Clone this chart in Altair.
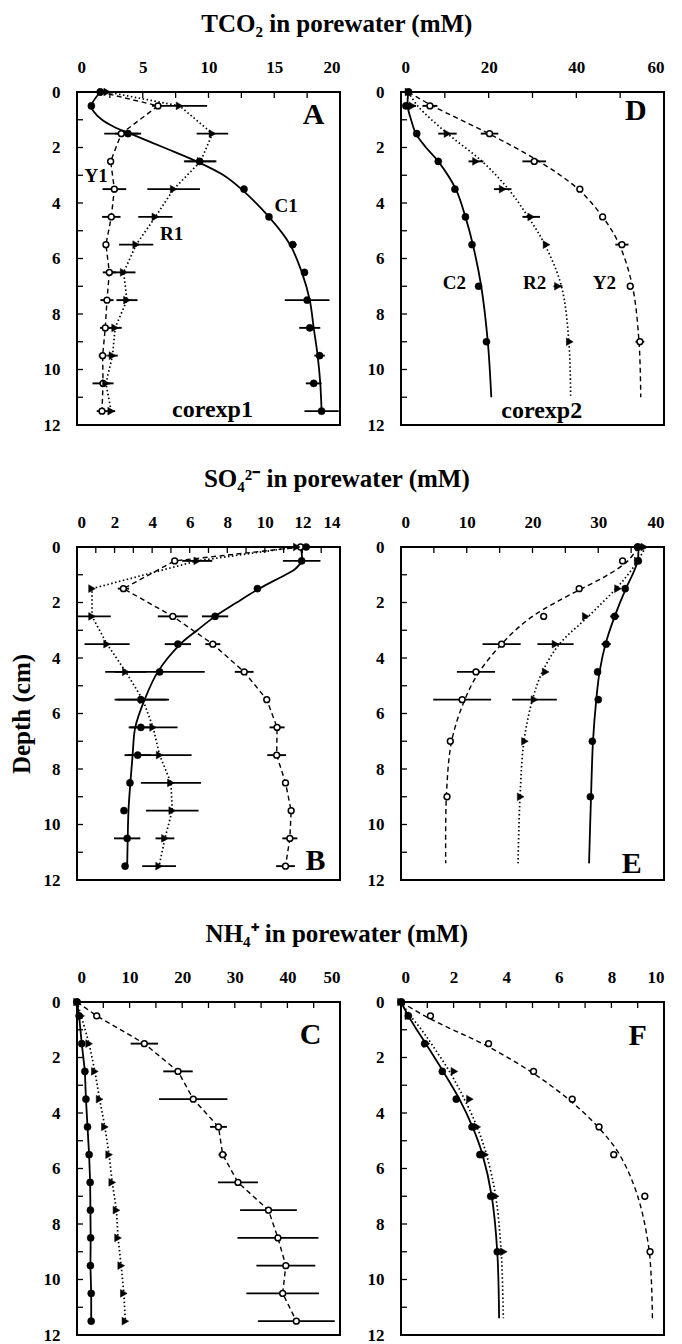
import altair as alt
import pandas as pd

FONT = "Liberation Serif"

DEPTH1 = [0, 0.5, 1.5, 2.5, 3.5, 4.5, 5.5, 6.5, 7.5, 8.5, 9.5, 10.5, 11.5]
DEPTH2 = [0, 0.5, 1.5, 2.5, 3.5, 4.5, 5.5, 7, 9]

# ---------------- Panel A : TCO2, corexp1 ----------------
A_C1 = [1.77, 1.09, 3.88, 9.33, 12.7, 14.6, 16.4, 17.3, 17.5, 17.7, 18.45, 18.0, 18.6]
A_C1_ERR = [0, 0, 1.0, 1.2, 0, 0, 0.3, 0, 1.7, 0.8, 0.4, 0.6, 1.3]
A_C1_FIT_D = [0, 0.5, 0.7, 1.0, 1.25, 1.5, 2.0, 2.5, 3.0, 3.5, 4.5, 5.5, 6.5, 7.5, 8.5, 9.5, 10.5, 11.5]
A_C1_FIT = [1.77, 1.09, 1.27, 1.9, 2.8, 4.05, 6.6, 9.1, 11.15, 12.5, 14.6, 16.2, 17.1, 17.7, 18.0, 18.3, 18.5, 18.6]
A_R1 = [2.3, 7.8, 10.3, 9.4, 7.35, 5.96, 4.5, 3.55, 3.8, 2.9, 2.7, 2.2, 2.6]
A_R1_ERR = [0, 2.1, 1.2, 1.2, 2.0, 1.3, 1.3, 0.9, 0.8, 0.5, 0.4, 0.3, 0.3]
A_Y1 = [1.77, 6.16, 3.37, 2.56, 2.84, 2.61, 2.2, 2.46, 2.28, 2.15, 1.95, 1.98, 1.9]
A_Y1_ERR = [0, 0, 1.3, 0, 0.9, 0.7, 0, 0.5, 0.5, 0.4, 0.3, 0.8, 0.4]

# ---------------- Panel D : TCO2, corexp2 ----------------
D_C2 = [1.7, 1.1, 3.6, 8.5, 12.3, 14.7, 16.2, 17.7, 19.5]
D_C2_ERR = [0, 0, 0, 0, 0, 0, 0, 0, 0]
D_C2_FIT_D = [0, 0.5, 1.0, 1.5, 2.0, 2.5, 3.5, 4.5, 5.5, 7, 9, 11]
D_C2_FIT = [1.7, 1.5, 2.3, 3.4, 5.7, 8.5, 12.5, 14.7, 16.4, 18.3, 19.8, 20.6]
D_R2 = [1.7, 2.6, 10.6, 17.1, 23.2, 29.7, 33.2, 35.8, 38.5]
D_R2_ERR = [0, 0.8, 2.1, 1.7, 2.0, 2.0, 0, 1.0, 0.5]
D_R2_FIT_D = [0, 0.5, 1.5, 2.5, 3.5, 4.5, 5.5, 7, 9, 11]
D_R2_FIT = [1.7, 3.8, 10.6, 18.5, 24.5, 29.0, 32.8, 36.6, 38.3, 38.7]
D_Y2 = [1.7, 6.6, 20.2, 30.4, 40.8, 46.0, 50.4, 52.3, 54.5]
D_Y2_ERR = [0, 1.7, 2.0, 2.7, 0, 0, 1.5, 0.5, 1.0]
D_Y2_FIT_D = [0, 0.5, 1.5, 2.5, 3.5, 4.5, 5.5, 7, 9, 11]
D_Y2_FIT = [1.7, 7.2, 20.0, 31.5, 40.4, 46.0, 49.8, 52.8, 54.3, 54.7]

# ---------------- Panel B : SO4, corexp1 ----------------
B_C1 = [12.2, 11.96, 9.6, 7.35, 5.37, 4.4, 3.4, 3.4, 3.23, 2.82, 2.5, 2.67, 2.56]
B_C1_ERR = [0, 1.0, 0, 0.7, 0.7, 2.4, 1.4, 0.6, 0.7, 0, 0, 0.7, 0]
B_C1_FIT_D = [0, 0.5, 0.8, 1.0, 1.5, 2.0, 2.5, 3.0, 3.5, 4.5, 5.5, 6.5, 7.5, 8.5, 9.5, 10.5, 11.5]
B_C1_FIT = [11.9, 11.96, 11.6, 11.1, 9.7, 8.5, 7.35, 6.4, 5.5, 4.3, 3.6, 3.1, 2.96, 2.84, 2.74, 2.7, 2.67]
B_R1 = [11.7, 6.4, 0.8, 0.8, 1.6, 2.6, 3.5, 4.05, 4.4, 5.0, 5.07, 4.68, 4.37]
B_R1_ERR = [0, 0.8, 0, 1.0, 1.2, 1.1, 1.4, 1.3, 1.7, 1.6, 1.4, 0.5, 0.9]
B_Y1 = [11.9, 5.2, 2.47, 5.1, 7.23, 8.9, 10.1, 10.65, 10.63, 11.1, 11.4, 11.33, 11.1]
B_Y1_ERR = [0, 0, 0.3, 0.8, 0.4, 0.5, 0, 0.4, 0.5, 0, 0, 0.4, 0.5]

# ---------------- Panel E : SO4, corexp2 ----------------
E_C2 = [36.0, 36.1, 34.1, 32.5, 31.2, 29.9, 30.0, 29.1, 28.8]
E_C2_ERR = [0, 0, 0, 0.7, 0.7, 0, 0, 0, 0]
E_C2_FIT_D = [0, 0.5, 1.0, 1.5, 2.5, 3.5, 4.5, 5.5, 7, 9, 11.4]
E_C2_FIT = [36.1, 36.0, 35.2, 34.2, 32.5, 31.1, 30.2, 29.7, 29.2, 28.9, 28.6]
E_R2 = [37.0, 36.0, 33.0, 28.1, 23.5, 22.0, 20.3, 18.85, 18.2]
E_R2_ERR = [0, 0, 0, 0, 2.75, 0, 3.4, 0, 0]
E_R2_FIT_D = [0, 0.5, 1.0, 1.5, 2.5, 3.5, 4.5, 5.5, 7, 9, 11.4]
E_R2_FIT = [37.2, 36.0, 34.5, 32.7, 28.5, 24.1, 21.5, 20.0, 18.7, 18.1, 17.8]
E_Y2 = [36.0, 33.7, 27.1, 21.7, 15.3, 11.4, 9.3, 7.5, 7.0]
E_Y2_ERR = [0, 0, 0, 0, 2.9, 2.9, 4.4, 0, 0]
E_Y2_FIT_D = [0, 0.5, 1.0, 1.5, 2.0, 2.5, 3.0, 3.5, 4.5, 5.5, 7, 9, 11.4]
E_Y2_FIT = [36.1, 34.5, 31.5, 27.5, 23.5, 20.0, 17.4, 15.3, 11.9, 9.7, 7.7, 6.9, 6.8]

# ---------------- Panel C : NH4, corexp1 ----------------
C_C1 = [0, 0.4, 0.9, 1.5, 1.7, 2.0, 2.3, 2.5, 2.55, 2.6, 2.55, 2.7, 2.7]
C_C1_ERR = [0] * 13
C_R1 = [0, 0.8, 2.3, 3.4, 4.3, 5.3, 6.1, 6.7, 7.5, 7.8, 8.4, 8.9, 9.2]
C_R1_ERR = [0] * 13
C_Y1 = [0, 3.75, 12.8, 19.2, 22.1, 26.9, 27.7, 30.6, 36.4, 38.2, 39.7, 39.1, 41.7]
C_Y1_ERR = [0, 0, 2.6, 2.8, 6.5, 1.6, 0.8, 3.8, 5.4, 7.7, 5.6, 6.9, 7.3]

# ---------------- Panel F : NH4, corexp2 ----------------
F_C2 = [0.02, 0.28, 0.9, 1.57, 2.1, 2.7, 3.0, 3.41, 3.66]
F_C2_FIT_D = [0, 0.5, 1.0, 1.5, 2.5, 3.5, 4.5, 5.5, 7, 9, 11.4]
F_C2_FIT = [0, 0.28, 0.6, 0.94, 1.6, 2.22, 2.72, 3.1, 3.45, 3.66, 3.73]
F_R2 = [0, 0.28, 0.97, 2.03, 2.62, 2.9, 3.2, 3.6, 3.91]
F_R2_FIT_D = [0, 0.5, 1.0, 1.5, 2.5, 3.5, 4.5, 5.5, 7, 9, 11.4]
F_R2_FIT = [0, 0.36, 0.78, 1.15, 1.84, 2.41, 2.89, 3.25, 3.6, 3.81, 3.89]
F_Y2 = [0, 1.12, 3.33, 5.04, 6.51, 7.53, 8.09, 9.27, 9.47]
F_Y2_FIT_D = [0, 0.5, 1.0, 1.5, 2.5, 3.5, 4.5, 5.5, 7, 9, 11.4]
F_Y2_FIT = [0, 0.9, 1.97, 3.1, 4.92, 6.36, 7.49, 8.31, 9.0, 9.44, 9.56]
ZERO9 = [0] * 9

ROW_TITLES = ["TCO₂ in porewater (mM)", "SO₄²⁻ in porewater (mM)", "NH₄⁺ in porewater (mM)"]

LINE_STYLE = {
    "C": dict(strokeWidth=1.8),
    "R": dict(strokeWidth=1.7, strokeDash=[1.5, 2.5]),
    "Y": dict(strokeWidth=1.4, strokeDash=[5, 3.5]),
}

W, H = 263, 333


def panel(xmax, xstep, pts, lines, labels, ytitle):
    xs = alt.Scale(domain=[0, xmax], nice=False, zero=True)
    ys = alt.Scale(domain=[0, 12], nice=False, reverse=True)
    n = int(round(xmax / xstep))
    major = [i * xstep for i in range(n + 1)]
    minor = [(i + 0.5) * xstep for i in range(n)]
    xaxis = alt.Axis(orient="top", values=major, title=None, labelFont=FONT,
                     labelFontWeight="bold", labelFontSize=17, labelPadding=16,
                     ticks=False, domain=False, grid=False, labelColor="black")
    yargs = dict(orient="left", values=list(range(0, 13, 2)),
                 labelFont=FONT, labelFontWeight="bold", labelFontSize=17,
                 labelPadding=17, ticks=False, domain=False, grid=False,
                 labelColor="black")
    if ytitle is None:
        yaxis = alt.Axis(title=None, **yargs)
    else:
        yaxis = alt.Axis(title="Depth (cm)", titleFont=FONT, titleFontSize=25,
                         titleFontWeight="bold", titleOpacity=1 if ytitle else 0,
                         titlePadding=9, titleColor="black", **yargs)

    def X(f):
        return alt.X(f, scale=xs, axis=xaxis)

    def Y(f):
        return alt.Y(f, scale=ys, axis=yaxis)

    layers = []
    tx = pd.DataFrame({"v": major + minor})
    layers.append(alt.Chart(tx).mark_rule(color="black", strokeWidth=1.3).encode(
        x=X("v:Q"), y=alt.value(0), y2=alt.value(6)))
    ty = pd.DataFrame({"d": [i * 1.0 for i in range(0, 13)]})
    layers.append(alt.Chart(ty).mark_rule(color="black", strokeWidth=1.3).encode(
        y=Y("d:Q"), x=alt.value(0), x2=alt.value(6)))

    # error bars
    rows = []
    for kind, dep, val, err in pts:
        for d, v, e in zip(dep, val, err):
            if e > 0:
                rows.append({"depth": d, "lo": max(v - e, 0), "hi": v + e})
    if rows:
        layers.append(alt.Chart(pd.DataFrame(rows)).mark_rule(color="black", strokeWidth=1.9).encode(
            x=X("lo:Q"), x2="hi:Q", y=Y("depth:Q")))

    # lines
    for kind, dep, val, interp in lines:
        df = pd.DataFrame({"depth": dep, "value": val})
        layers.append(alt.Chart(df).mark_line(color="black", interpolate=interp, **LINE_STYLE[kind]).encode(
            x=X("value:Q"), y=Y("depth:Q"), order=alt.Order("depth:Q")))

    # points
    for kind, dep, val, err in pts:
        df = pd.DataFrame({"depth": dep, "value": val})
        if kind == "C":
            mk = alt.Chart(df).mark_point(shape="circle", filled=True, size=50, fill="black",
                                          stroke="black", strokeWidth=0.5, opacity=1)
        elif kind == "R":
            mk = alt.Chart(df).mark_point(shape="triangle-right", filled=True, size=60, fill="black",
                                          stroke="black", strokeWidth=0.5, opacity=1)
        else:
            mk = alt.Chart(df).mark_point(shape="circle", filled=True, size=34, fill="white",
                                          stroke="black", strokeWidth=1.5, opacity=1)
        layers.append(mk.encode(x=X("value:Q"), y=Y("depth:Q")))

    # text labels
    ldf = pd.DataFrame(labels, columns=["tx", "depth", "text", "fs"])
    layers.append(alt.Chart(ldf).mark_text(font=FONT, fontWeight="bold", color="black",
                                           align="center", baseline="middle").encode(
        x=X("tx:Q"), y=Y("depth:Q"),
        text="text:N", size=alt.Size("fs:Q", scale=None, legend=None)))

    return alt.layer(*layers).properties(width=W, height=H)


pA = panel(20, 5,
           [("Y", DEPTH1, A_Y1, A_Y1_ERR), ("R", DEPTH1, A_R1, A_R1_ERR), ("C", DEPTH1, A_C1, A_C1_ERR)],
           [("Y", DEPTH1, A_Y1, "linear"), ("R", DEPTH1, A_R1, "linear"),
            ("C", A_C1_FIT_D, A_C1_FIT, "catmull-rom")],
           [(18.0, 0.82, "A", 30), (1.45, 3.03, "Y1", 19), (15.9, 4.1, "C1", 19),
            (7.2, 5.13, "R1", 19), (10.3, 11.45, "corexp1", 24)], False)
pD = panel(60, 20,
           [("Y", DEPTH2, D_Y2, D_Y2_ERR), ("R", DEPTH2, D_R2, D_R2_ERR), ("C", DEPTH2, D_C2, D_C2_ERR)],
           [("Y", D_Y2_FIT_D, D_Y2_FIT, "catmull-rom"), ("R", D_R2_FIT_D, D_R2_FIT, "catmull-rom"),
            ("C", D_C2_FIT_D, D_C2_FIT, "catmull-rom")],
           [(53.6, 0.67, "D", 30), (12.2, 6.87, "C2", 19), (30.5, 6.87, "R2", 19),
            (46.4, 6.87, "Y2", 19), (32.1, 11.5, "corexp2", 24)], None)
pB = panel(14, 2,
           [("Y", DEPTH1, B_Y1, B_Y1_ERR), ("R", DEPTH1, B_R1, B_R1_ERR), ("C", DEPTH1, B_C1, B_C1_ERR)],
           [("Y", DEPTH1, B_Y1, "linear"), ("R", DEPTH1, B_R1, "linear"),
            ("C", B_C1_FIT_D, B_C1_FIT, "catmull-rom")],
           [(12.7, 11.33, "B", 30)], True)
pE = panel(40, 10,
           [("Y", DEPTH2, E_Y2, E_Y2_ERR), ("R", DEPTH2, E_R2, E_R2_ERR), ("C", DEPTH2, E_C2, E_C2_ERR)],
           [("Y", E_Y2_FIT_D, E_Y2_FIT, "catmull-rom"), ("R", E_R2_FIT_D, E_R2_FIT, "catmull-rom"),
            ("C", E_C2_FIT_D, E_C2_FIT, "catmull-rom")],
           [(35.1, 11.43, "E", 30)], None)
pC = panel(50, 10,
           [("Y", DEPTH1, C_Y1, C_Y1_ERR), ("R", DEPTH1, C_R1, C_R1_ERR), ("C", DEPTH1, C_C1, C_C1_ERR)],
           [("Y", DEPTH1, C_Y1, "linear"), ("R", DEPTH1, C_R1, "linear"), ("C", DEPTH1, C_C1, "linear")],
           [(44.4, 1.2, "C", 30)], False)
pF = panel(10, 2,
           [("Y", DEPTH2, F_Y2, ZERO9), ("R", DEPTH2, F_R2, ZERO9), ("C", DEPTH2, F_C2, ZERO9)],
           [("Y", F_Y2_FIT_D, F_Y2_FIT, "catmull-rom"), ("R", F_R2_FIT_D, F_R2_FIT, "catmull-rom"),
            ("C", F_C2_FIT_D, F_C2_FIT, "catmull-rom")],
           [(9.0, 1.21, "F", 30)], None)


def row(left, right, title):
    return alt.hconcat(left, right, spacing=24).properties(
        title=alt.TitleParams(title, anchor="middle", font=FONT, fontSize=25,
                              fontWeight="bold", color="black", offset=20))


chart = alt.vconcat(row(pA, pD, ROW_TITLES[0]), row(pB, pE, ROW_TITLES[1]),
                    row(pC, pF, ROW_TITLES[2]), spacing=33).properties(
    padding={"left": 8, "top": 12, "right": 0, "bottom": 0},
    background="white",
).configure_view(stroke="black", strokeWidth=2)

chart.save("out.html", embed_options={"renderer": "svg", "actions": False})
